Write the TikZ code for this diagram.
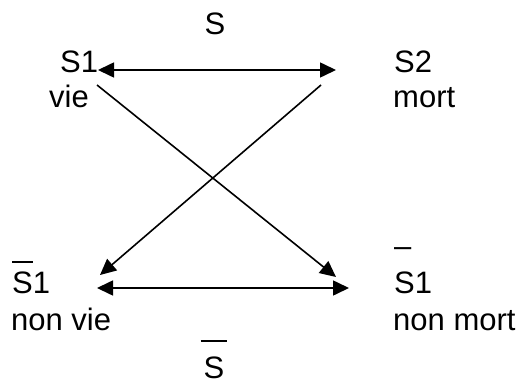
\documentclass[tikz,border=0pt]{standalone}
\usepackage{fontspec}
\setmainfont{Liberation Sans}
\usepackage{tikz}
\usetikzlibrary{arrows.meta}

\newsavebox{\barbox}
\newcommand{\barred}[2][30pt]{\sbox{\barbox}{#2}\rlap{\rule[#1]{\wd\barbox}{1.6pt}}\usebox{\barbox}}

\tikzset{
    lbl/.style={anchor=base west, inner sep=0pt},
    link/.style={line width=1.6pt, -{Triangle[length=16pt,width=15pt]}},
    dlink/.style={line width=1.6pt, {Triangle[length=16pt,width=15pt]}-{Triangle[length=16pt,width=15pt]}}
}

\begin{document}
\begin{tikzpicture}[x=1pt, y=-1pt, font=\fontsize{31pt}{35pt}\selectfont]
    \useasboundingbox (0,0) rectangle (527,385);

    % Labels
    \node[inner sep=0pt, anchor=base] (s) at (215,35) {S};
    \node[lbl] (s1) at (60,73) {S1};
    \node[lbl] (vie) at (49,108) {vie};
    \node[lbl] (s2) at (394,73) {S2};
    \node[lbl] (mort) at (393,108) {mort};
    \node[lbl] (nons1) at (12,293) {\barred{S}1};
    \node[lbl] (nonvie) at (11,330) {non vie};
    \node[lbl] (dash) at (394,256) {–};
    \node[lbl] (s1b) at (394,293) {S1};
    \node[lbl] (nonmort) at (393,330) {non mort};
    \node[inner sep=0pt, anchor=base] (sbar) at (214,378) {\barred[36pt]{\kern3pt S\kern3pt}};

    % Ends of the arrows
    \coordinate (topl) at (98,70);
    \coordinate (topr) at (336,70);
    \coordinate (botl) at (97,288);
    \coordinate (botr) at (349,288);
    \coordinate (diaga) at (97,85);
    \coordinate (diagb) at (321,85);
    \coordinate (tipl) at (100,275);
    \coordinate (tipr) at (336,277);

    % Arrows
    \draw[dlink] (topl) -- (topr);
    \draw[dlink] (botl) -- (botr);
    \draw[link] (diaga) -- (tipr);
    \draw[link] (diagb) -- (tipl);
\end{tikzpicture}
\end{document}
